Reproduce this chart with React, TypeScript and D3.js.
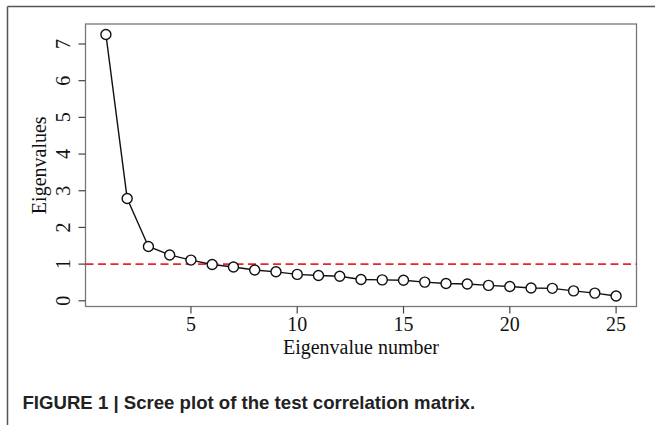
import React from 'react';
import * as d3 from 'd3';

// eigenvalues, in order
const eigenNumbers = d3.range(1, 26);
const eigenValues = [
  7.26, 2.79, 1.48, 1.25, 1.11, 0.99, 0.92, 0.84, 0.79, 0.72, 0.69, 0.67, 0.58,
  0.57, 0.56, 0.51, 0.47, 0.46, 0.42, 0.39, 0.35, 0.34, 0.27, 0.21, 0.13,
];
const xTicks = [5, 10, 15, 20, 25];
const yTicks = [0, 1, 2, 3, 4, 5, 6, 7];
const cutoff = 1;

const caption = 'FIGURE 1 | Scree plot of the test correlation matrix.';

const width = 655;
const height = 425;
const plot = { left: 85.5, right: 636.5, top: 24, bottom: 306.5 };

export default function App() {
  // R-style 4% padding around the data range
  const xPad = (25 - 1) * 0.04;
  const yMin = d3.min(eigenValues) as number;
  const yMax = d3.max(eigenValues) as number;
  const yPad = (yMax - yMin) * 0.04;

  const x = d3.scaleLinear().domain([1 - xPad, 25 + xPad]).range([plot.left, plot.right]);
  const y = d3.scaleLinear().domain([yMin - yPad, yMax + yPad]).range([plot.bottom, plot.top]);

  const line = d3.line<number>()
    .x((_, i) => x(eigenNumbers[i]))
    .y(d => y(d));

  const serif = '"Liberation Serif", "Times New Roman", serif';
  const tickSize = 7;

  return (
    <svg width={width} height={height} style={{ position: 'fixed', left: 0, top: 0, background: '#fff' }}>
      {/* outer figure frame (top + left edges) */}
      <line x1={7.5} y1={6.5} x2={width} y2={6.5} stroke="#555" strokeWidth={1.5} />
      <line x1={7.5} y1={6.5} x2={7.5} y2={height} stroke="#555" strokeWidth={1.5} />

      {/* plot box */}
      <rect x={plot.left} y={plot.top} width={plot.right - plot.left} height={plot.bottom - plot.top}
        fill="none" stroke="#777" strokeWidth={1.3} />

      {/* y axis */}
      <g fontFamily={serif} fontSize={20} fill="#111">
        {yTicks.map(t => (
          <g key={t}>
            <line x1={plot.left - tickSize} x2={plot.left} y1={y(t)} y2={y(t)} stroke="#444" strokeWidth={1.2} />
            <text transform={`translate(70,${y(t)}) rotate(-90)`} textAnchor="middle">{t}</text>
          </g>
        ))}
        <text transform={`translate(45.5,${(plot.top + plot.bottom) / 2}) rotate(-90)`} textAnchor="middle">
          Eigenvalues
        </text>
      </g>

      {/* x axis */}
      <g fontFamily={serif} fontSize={20} fill="#111">
        {xTicks.map(t => (
          <g key={t}>
            <line x1={x(t)} x2={x(t)} y1={plot.bottom} y2={plot.bottom + tickSize} stroke="#444" strokeWidth={1.2} />
            <text x={x(t)} y={330.5} textAnchor="middle">{t}</text>
          </g>
        ))}
        <text x={(plot.left + plot.right) / 2} y={354} textAnchor="middle">Eigenvalue number</text>
      </g>

      {/* Kaiser cutoff */}
      <line x1={plot.left} x2={plot.right} y1={y(cutoff)} y2={y(cutoff)}
        stroke="#e8262b" strokeWidth={1.6} strokeDasharray="8,4.5" />

      {/* scree line and points */}
      <path d={line(eigenValues) ?? ''} fill="none" stroke="#111" strokeWidth={1.4} />
      {eigenValues.map((v, i) => (
        <circle key={i} cx={x(eigenNumbers[i])} cy={y(v)} r={5} fill="#fff" stroke="#111" strokeWidth={1.4} />
      ))}

      <text x={22.5} y={409.3} fontFamily='"Liberation Sans", Arial, sans-serif' fontWeight="bold"
        fontSize={18.6} fill="#222">
        {caption}
      </text>
    </svg>
  );
}
